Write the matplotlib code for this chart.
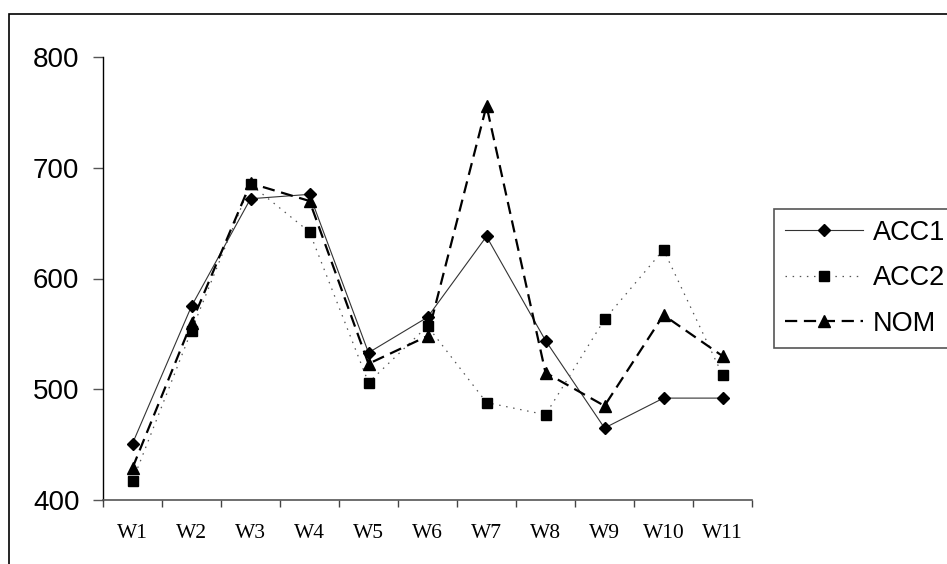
import numpy as np
import matplotlib
matplotlib.use("Agg")
import matplotlib.pyplot as plt
from matplotlib.patches import Rectangle

# data
weeks = ["W1", "W2", "W3", "W4", "W5", "W6", "W7", "W8", "W9", "W10", "W11"]
acc1 = [451, 575, 672, 676, 533, 565, 638, 544, 465, 492, 492]
acc2 = [417, 553, 685, 642, 506, 557, 488, 477, 563, 626, 513]
nom = [429, 560, 686, 670, 523, 548, 756, 515, 485, 567, 530]

W, H = 947, 564
fig = plt.figure(figsize=(W / 100, H / 100), dpi=100)
ax = fig.add_axes([103 / W, 1 - 500 / H, (752 - 103) / W, (500 - 57) / H])

x = np.arange(len(weeks))
ax.plot(x, acc1, color="#333333", lw=0.8, marker="D", ms=6.2,
        mfc="black", mec="black", label="ACC1", clip_on=False)
ax.plot(x, acc2, color="#555555", lw=0.9, dashes=(1.2, 4.5), marker="s", ms=7.2,
        mfc="black", mec="black", label="ACC2", clip_on=False)
ax.plot(x, nom, color="black", lw=1.6, dashes=(5.5, 3.0), marker="^", ms=9,
        mfc="black", mec="black", label="NOM", clip_on=False)

ax.set_xlim(-0.5, len(weeks) - 0.5)
ax.set_ylim(400, 800)

# y axis
ax.set_yticks([400, 500, 600, 700, 800])
ax.tick_params(axis="y", direction="out", length=7, width=1, pad=10,
               labelsize=20, color="#555555")
for lab in ax.get_yticklabels():
    lab.set_family(["Liberation Sans", "DejaVu Sans"])

# x axis: ticks between categories, labels centred
ax.set_xticks(x)
ax.set_xticklabels(weeks)
ax.set_xticks(np.arange(-0.5, len(weeks), 1.0), minor=True)
ax.tick_params(axis="x", which="major", length=0, pad=17, labelsize=15.5)
ax.tick_params(axis="x", which="minor", direction="out", length=5, width=1,
               color="#444444")
for lab in ax.get_xticklabels():
    lab.set_family(["Liberation Serif", "DejaVu Serif"])

for s in ["top", "right"]:
    ax.spines[s].set_visible(False)
ax.spines["left"].set_color("black")
ax.spines["left"].set_linewidth(1)
ax.spines["bottom"].set_color("#555555")
ax.spines["bottom"].set_linewidth(1.2)

leg = fig.legend(loc="upper left", bbox_to_anchor=(774 / W, 1 - 209 / H),
                 bbox_transform=fig.transFigure, numpoints=1, borderaxespad=0,
                 handlelength=2.9, handletextpad=0.35, borderpad=0.4,
                 labelspacing=0.72, fancybox=False, framealpha=1,
                 prop={"family": ["Liberation Sans", "DejaVu Sans"], "size": 19.5})
leg.get_frame().set_edgecolor("#555555")
leg.get_frame().set_linewidth(1.2)

# outer chart frame, cut off at right and bottom
fig.patches.append(Rectangle((8.5 / W, -0.2), 1.5, 1.2 - 14 / H,
                             transform=fig.transFigure, fill=False,
                             edgecolor="black", lw=1.2))

fig.savefig("out.png", dpi=100)
